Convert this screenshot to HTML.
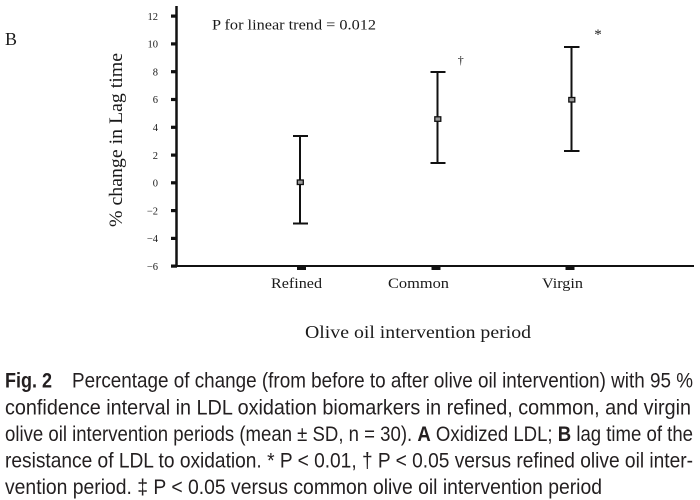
<!DOCTYPE html>
<html>
<head>
<meta charset="utf-8">
<style>
html,body{margin:0;padding:0;background:#fff;}
svg{display:block;}
.serif{font-family:"Liberation Serif","DejaVu Serif",serif;fill:#1a1a1a;}
.cap{font-family:"Liberation Sans Narrow","Liberation Sans",sans-serif;fill:#231f20;font-size:21px;}
</style>
</head>
<body>
<svg width="700" height="500" viewBox="0 0 700 500" xmlns="http://www.w3.org/2000/svg">
  <rect width="700" height="500" fill="#fff"/>
  <!-- Panel letter -->
  <text class="serif" x="5" y="45" font-size="18" textLength="12" lengthAdjust="spacingAndGlyphs">B</text>

  <!-- Y axis label -->
  <text class="serif" font-size="18.5" transform="translate(122,140) rotate(-90)" text-anchor="middle" textLength="174" lengthAdjust="spacingAndGlyphs">% change in Lag time</text>

  <!-- Axes -->
  <line x1="176.5" y1="6" x2="176.5" y2="267" stroke="#111" stroke-width="2.5"/>
  <line x1="175.5" y1="266" x2="694" y2="266" stroke="#111" stroke-width="2"/>

  <!-- Y ticks -->
  <g fill="#111">
    <rect x="171" y="14.5" width="6" height="3.2"/>
    <rect x="171" y="42.3" width="6" height="3.2"/>
    <rect x="171" y="70.1" width="6" height="3.2"/>
    <rect x="171" y="97.9" width="6" height="3.2"/>
    <rect x="171" y="125.7" width="6" height="3.2"/>
    <rect x="171" y="153.5" width="6" height="3.2"/>
    <rect x="171" y="181.2" width="6" height="3.2"/>
    <rect x="171" y="209" width="6" height="3.2"/>
    <rect x="171" y="236.8" width="6" height="3.2"/>
    <rect x="171" y="264.5" width="6" height="3.2"/>
  </g>
  <g class="serif" font-size="10.5" text-anchor="end">
    <text x="158" y="19.8">12</text>
    <text x="158" y="47.6">10</text>
    <text x="158" y="75.4">8</text>
    <text x="158" y="103.2">6</text>
    <text x="158" y="131">4</text>
    <text x="158" y="158.8">2</text>
    <text x="158" y="186.5">0</text>
    <text x="158" y="214.3">−2</text>
    <text x="158" y="242.1">−4</text>
    <text x="158" y="269.8">−6</text>
  </g>

  <!-- X ticks -->
  <g fill="#111">
    <rect x="297" y="266" width="9" height="4"/>
    <rect x="431.5" y="266" width="9" height="4"/>
    <rect x="565.5" y="266" width="9" height="4"/>
  </g>
  <g class="serif" font-size="15">
    <text x="271" y="288" textLength="51" lengthAdjust="spacingAndGlyphs">Refined</text>
    <text x="388" y="288" textLength="61" lengthAdjust="spacingAndGlyphs">Common</text>
    <text x="542" y="288" textLength="41" lengthAdjust="spacingAndGlyphs">Virgin</text>
  </g>
  <text class="serif" x="305" y="338" font-size="18" textLength="226" lengthAdjust="spacingAndGlyphs">Olive oil intervention period</text>

  <!-- P trend -->
  <text class="serif" x="212" y="29.5" font-size="15" textLength="164" lengthAdjust="spacingAndGlyphs">P for linear trend = 0.012</text>

  <!-- Error bars -->
  <g stroke="#111" stroke-width="2" fill="none">
    <line x1="300" y1="136" x2="300" y2="223.5"/>
    <line x1="293" y1="136" x2="308" y2="136"/>
    <line x1="293" y1="223.5" x2="308" y2="223.5"/>

    <line x1="437.5" y1="72" x2="437.5" y2="163"/>
    <line x1="430.5" y1="72" x2="445.5" y2="72"/>
    <line x1="430.5" y1="163" x2="445.5" y2="163"/>

    <line x1="571.5" y1="47" x2="571.5" y2="151"/>
    <line x1="564" y1="47" x2="579.5" y2="47"/>
    <line x1="564" y1="151" x2="579.5" y2="151"/>
  </g>
  <g stroke="#111" stroke-width="1.3" fill="#999">
    <rect x="297.3" y="180" width="6" height="4.5"/>
    <rect x="434.8" y="116.8" width="6" height="4.5"/>
    <rect x="568.8" y="97.5" width="6" height="4.5"/>
  </g>

  <!-- significance marks -->
  <text class="serif" x="460.7" y="64" font-size="12" text-anchor="middle">†</text>
  <text class="serif" x="598" y="39" font-size="15" text-anchor="middle">*</text>

  <!-- Caption -->
  <text class="cap" x="5" y="387.7" font-weight="bold" textLength="47" lengthAdjust="spacingAndGlyphs">Fig. 2</text>
  <text class="cap" x="72" y="387.7" textLength="621" lengthAdjust="spacingAndGlyphs">Percentage of change (from before to after olive oil intervention) with 95 %</text>
  <text class="cap" x="5" y="414.3" textLength="686" lengthAdjust="spacingAndGlyphs">confidence interval in LDL oxidation biomarkers in refined, common, and virgin</text>
  <text class="cap" x="5" y="440.9" textLength="688" lengthAdjust="spacingAndGlyphs">olive oil intervention periods (mean ± SD, n = 30). <tspan font-weight="bold">A</tspan> Oxidized LDL; <tspan font-weight="bold">B</tspan> lag time of the</text>
  <text class="cap" x="5" y="467.5" textLength="688" lengthAdjust="spacingAndGlyphs">resistance of LDL to oxidation. * P &lt; 0.01, † P &lt; 0.05 versus refined olive oil inter-</text>
  <text class="cap" x="5" y="494" textLength="597" lengthAdjust="spacingAndGlyphs">vention period. ‡ P &lt; 0.05 versus common olive oil intervention period</text>
</svg>
</body>
</html>
